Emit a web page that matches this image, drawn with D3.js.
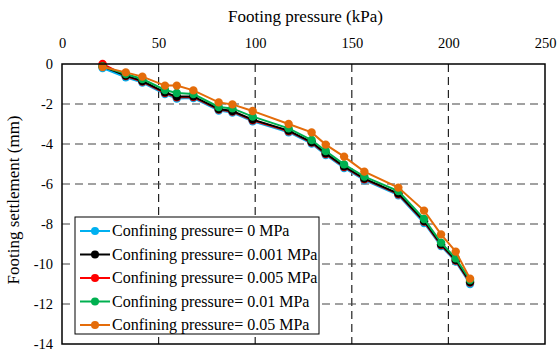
<!DOCTYPE html>
<html>
<head>
<meta charset="utf-8">
<script src="https://cdn.jsdelivr.net/npm/d3@7"></script>
<style>
  html, body { margin: 0; padding: 0; background: #fff; }
  svg text { font-family: "Liberation Serif", "Times New Roman", serif !important; fill: #000; }
</style>
</head>
<body>
<svg id="chart" width="557" height="352"></svg>
<script>
// Footing pressure (kPa) at each load step
const pressure = [21, 33, 41.6, 53.3, 59.4, 68, 81.1, 88.2, 98.7, 117.3, 129.2, 136.5, 146, 156.5, 174.1, 187.4, 196.2, 203.8, 211.2];

// Settlement (mm) for each confining pressure
const settle0 = [-0.2, -0.66, -0.93, -1.5, -1.73, -1.7, -2.33, -2.43, -2.86, -3.41, -3.98, -4.55, -5.2, -5.81, -6.56, -7.95, -9.1, -9.88, -11.0];
const settle0001 = [-0.12, -0.58, -0.85, -1.42, -1.63, -1.62, -2.25, -2.35, -2.78, -3.33, -3.9, -4.47, -5.12, -5.73, -6.48, -7.85, -9.02, -9.8, -10.9];
const settle0005 = [0.0, -0.6, -0.88, -1.45, -1.66, -1.65, -2.28, -2.38, -2.81, -3.36, -3.93, -4.5, -5.15, -5.76, -6.51, -7.88, -9.05, -9.83, -10.93];
const settle001 = [-0.12, -0.5, -0.75, -1.3, -1.45, -1.5, -2.15, -2.22, -2.63, -3.22, -3.8, -4.35, -5.02, -5.63, -6.35, -7.75, -8.93, -9.72, -10.8];
const settle005 = [-0.15, -0.42, -0.63, -1.08, -1.08, -1.32, -1.92, -2.02, -2.35, -3.0, -3.42, -4.03, -4.63, -5.38, -6.18, -7.33, -8.52, -9.38, -10.73];

const seriesNames = [
  "Confining pressure= 0 MPa",
  "Confining pressure= 0.001 MPa",
  "Confining pressure= 0.005 MPa",
  "Confining pressure= 0.01 MPa",
  "Confining pressure= 0.05 MPa"
];
const seriesValues = [settle0, settle0001, settle0005, settle001, settle005];
const seriesColors = ["#00B0F0", "#000000", "#FF0000", "#00B050", "#E46C0A"];
// drawing order (later on top)
const drawOrder = [0, 2, 1, 3, 4];

const xTicks = [0, 50, 100, 150, 200, 250];
const yTicks = [0, -2, -4, -6, -8, -10, -12, -14];

const svg = d3.select("#chart");
const L = 62, R = 545, T = 64, B = 344;

const x = d3.scaleLinear().domain([0, 250]).range([L, R]);
const y = d3.scaleLinear().domain([0, -14]).range([T, B]);

// dashed grid
const grid = svg.append("g");
grid.selectAll("line.v").data(xTicks.filter(d => d > 0 && d < 250)).join("line")
  .attr("x1", d => x(d)).attr("x2", d => x(d))
  .attr("y1", T).attr("y2", B)
  .attr("stroke", "#222").attr("stroke-width", 1.2)
  .attr("stroke-dasharray", "8,5");
grid.selectAll("line.h").data(yTicks.filter(d => d < 0 && d > -14)).join("line")
  .attr("x1", L).attr("x2", R)
  .attr("y1", d => y(d)).attr("y2", d => y(d))
  .attr("stroke", "#444").attr("stroke-width", 1.2)
  .attr("stroke-dasharray", "8,5");

// axes (labels only, frame drawn separately)
const xAxis = d3.axisTop(x).tickValues(xTicks).tickSize(0).tickPadding(0);
const gx = svg.append("g").attr("transform", `translate(0,${T - 16})`).call(xAxis);
gx.select(".domain").remove();
gx.attr("font-size", 14.5);

const yAxis = d3.axisLeft(y).tickValues(yTicks).tickSize(0).tickPadding(0)
  .tickFormat(d => d === 0 ? "0" : String(d));
const gy = svg.append("g").attr("transform", `translate(${L - 9},0)`).call(yAxis);
gy.select(".domain").remove();
gy.attr("font-size", 14.5);

// axis titles
svg.append("text").attr("x", (L + R) / 2 + 2).attr("y", 22)
  .attr("text-anchor", "middle").attr("font-size", 17).text("Footing pressure (kPa)");
svg.append("text")
  .attr("transform", `translate(19,${(T + B) / 2 - 4}) rotate(-90)`)
  .attr("text-anchor", "middle").attr("font-size", 17).text("Footing settlement (mm)");

// series
const line = d3.line().x((d, i) => x(pressure[i])).y(d => y(d));
const plot = svg.append("g");
drawOrder.forEach(k => {
  const g = plot.append("g");
  g.append("path").datum(seriesValues[k])
    .attr("d", line).attr("fill", "none")
    .attr("stroke", seriesColors[k]).attr("stroke-width", 2);
  g.selectAll("circle").data(seriesValues[k]).join("circle")
    .attr("cx", (d, i) => x(pressure[i])).attr("cy", d => y(d))
    .attr("r", 4.2).attr("fill", seriesColors[k]);
});

// frame
svg.append("rect").attr("x", L).attr("y", T).attr("width", R - L).attr("height", B - T)
  .attr("fill", "none").attr("stroke", "#000").attr("stroke-width", 1.5);

// legend
const lg = svg.append("g");
lg.append("rect").attr("x", 75).attr("y", 217).attr("width", 244).attr("height", 117)
  .attr("fill", "#fff").attr("stroke", "#000").attr("stroke-width", 1);
seriesNames.forEach((name, i) => {
  const cy = 231 + i * 23.5;
  lg.append("line").attr("x1", 80).attr("x2", 110).attr("y1", cy).attr("y2", cy)
    .attr("stroke", seriesColors[i]).attr("stroke-width", 2);
  lg.append("circle").attr("cx", 95).attr("cy", cy).attr("r", 4).attr("fill", seriesColors[i]);
  lg.append("text").attr("x", 112).attr("y", cy + 5).attr("font-size", 16).text(name);
});
</script>
</body>
</html>
